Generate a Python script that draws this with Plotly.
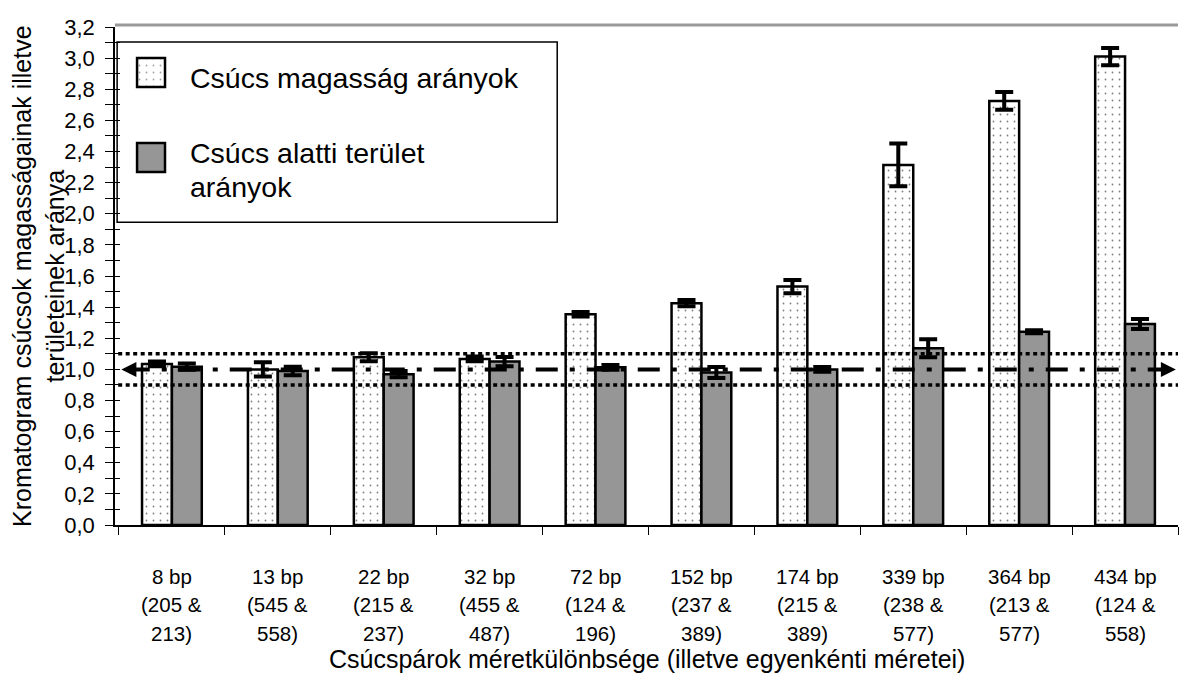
import plotly.graph_objects as go

categories = ["8 bp", "13 bp", "22 bp", "32 bp", "72 bp", "152 bp", "174 bp", "339 bp", "364 bp", "434 bp"]
pair_first = ["(205 &", "(545 &", "(215 &", "(455 &", "(124 &", "(237 &", "(215 &", "(238 &", "(213 &", "(124 &"]
pair_second = ["213)", "558)", "237)", "487)", "196)", "389)", "389)", "577)", "577)", "558)"]
height_ratio = [1.035, 1.00, 1.078, 1.067, 1.354, 1.425, 1.532, 2.314, 2.725, 3.01]
height_err = [0.015, 0.045, 0.025, 0.015, 0.015, 0.02, 0.043, 0.137, 0.057, 0.055]
area_ratio = [1.017, 0.99, 0.969, 1.05, 1.013, 0.98, 1.0, 1.136, 1.242, 1.292]
area_err = [0.02, 0.027, 0.02, 0.03, 0.015, 0.035, 0.015, 0.058, 0.01, 0.032]
ref_value = 1.0
tolerance = [0.9, 1.1]
series_names = ["Csúcs magasság arányok", "Csúcs alatti terület", "arányok"]

FONT = "Liberation Sans, Arial, sans-serif"
GRAY = "#969696"
DOTS = dict(shape=".", fgcolor="black", bgcolor="white", size=7, solidity=0.05)

fig = go.Figure()
fig.add_bar(x=categories, y=height_ratio, name=series_names[0],
            marker=dict(color="white", line=dict(color="black", width=2.5), pattern=DOTS),
            error_y=dict(type="data", array=height_err, color="black", thickness=4, width=9),
            showlegend=False)
fig.add_bar(x=categories, y=area_ratio, name=series_names[1],
            marker=dict(color=GRAY, line=dict(color="black", width=2.5)),
            error_y=dict(type="data", array=area_err, color="black", thickness=4, width=9),
            showlegend=False)
# invisible trace carrying the overlay axis with inward ticks (crossing tick marks)
fig.add_scatter(x=[categories[0]], y=[None], yaxis="y2", showlegend=False, hoverinfo="skip")

# legend swatches drawn on an auxiliary (hidden) axis pair spanning the plot area
fig.add_bar(x=[0.0339, 0.0339], y=[0.0582, 0.0582], base=[0.8795, 0.7088], width=[0.0263, 0.0263],
            offset=[-0.01315, -0.01315], xaxis="x3", yaxis="y3",
            marker=dict(color=["white", GRAY], line=dict(color="black", width=2.5),
                        pattern=dict(shape=[".", ""], fgcolor="black", bgcolor="white", size=7, solidity=0.05)),
            showlegend=False, hoverinfo="skip")

fig.update_layout(
    width=1180, height=673,
    margin=dict(l=115, r=2, t=27, b=148),
    paper_bgcolor="white", plot_bgcolor="rgba(0,0,0,0)",
    separators=", ",
    barmode="group", bargap=0.436, bargroupgap=0,
    font=dict(family=FONT, color="black", size=22),
    xaxis=dict(type="category", tickson="boundaries", ticks="outside", ticklen=8, tickcolor="black",
               tickwidth=1, showline=True, linecolor="black", linewidth=1.5, showgrid=False,
               showticklabels=False, automargin=False),
    yaxis=dict(range=[0, 3.2], dtick=0.2, tickformat=".1f", ticks="outside", ticklen=8,
               tickcolor="black", tickwidth=1, showline=True, linecolor="black", linewidth=1.5,
               showgrid=False, zeroline=False, tickfont=dict(size=22), automargin=False,
               ticklabelstandoff=6,
               minor=dict(dtick=0.1, ticks="outside", ticklen=8, tickcolor="black", tickwidth=1)),
    yaxis2=dict(overlaying="y", matches="y", range=[0, 3.2], dtick=0.2, ticks="inside", ticklen=5,
                tickcolor="black", tickwidth=1, showticklabels=False, showgrid=False, zeroline=False,
                showline=False, side="left", automargin=False,
                minor=dict(dtick=0.1, ticks="inside", ticklen=5, tickcolor="black", tickwidth=1)),
    xaxis3=dict(domain=[0, 1], range=[0, 1], visible=False, anchor="y3", automargin=False),
    yaxis3=dict(domain=[0, 1], range=[0, 1], visible=False, anchor="x3", automargin=False),
)

shapes = [
    dict(type="line", xref="paper", yref="paper", x0=0, x1=1, y0=1.004, y1=1.004,
         line=dict(color="#999999", width=3)),
    dict(type="rect", xref="paper", yref="paper", x0=0.002, x1=0.416, y0=0.608, y1=0.970,
         fillcolor="white", line=dict(color="black", width=1.5), layer="below"),
]
for t in tolerance:
    shapes.append(dict(type="line", xref="paper", yref="y", x0=0.003, x1=1, y0=t, y1=t,
                       line=dict(color="black", width=3.5, dash="4px,3.5px")))
shapes.append(dict(type="line", xref="paper", yref="y", x0=0.012, x1=0.99, y0=ref_value, y1=ref_value,
                   line=dict(color="black", width=4, dash="22px,12px,5px,12px")))
fig.update_layout(shapes=shapes)

ann = [
    dict(x=0.006, y=ref_value, xref="paper", yref="y", ax=14, ay=0, showarrow=True, text="",
         arrowhead=2, arrowsize=1, arrowwidth=3, arrowcolor="black"),
    dict(x=0.998, y=ref_value, xref="paper", yref="y", ax=-14, ay=0, showarrow=True, text="",
         arrowhead=2, arrowsize=1, arrowwidth=3, arrowcolor="black"),
    dict(x=0.0687, y=0.8976, xref="paper", yref="paper", xanchor="left", yanchor="middle",
         text=series_names[0], showarrow=False, font=dict(size=28.5)),
    dict(x=0.0687, y=0.7476, xref="paper", yref="paper", xanchor="left", yanchor="middle",
         text=series_names[1], showarrow=False, font=dict(size=28.5)),
    dict(x=0.0687, y=0.6793, xref="paper", yref="paper", xanchor="left", yanchor="middle",
         text=series_names[2], showarrow=False, font=dict(size=28.5)),
    dict(x=0, y=0.5, xref="paper", yref="paper", xshift=-77, xanchor="center", yanchor="middle",
         textangle=-90, showarrow=False, font=dict(size=25),
         text="Kromatogram csúcsok magasságainak illetve<br>területeinek aránya"),
    dict(x=0.5, y=0, xref="paper", yref="paper", yshift=-134, xanchor="center", yanchor="middle",
         showarrow=False, font=dict(size=25),
         text="Csúcspárok méretkülönbsége (illetve egyenkénti méretei)"),
]
# category labels, three lines each, placed through the category axis
for c, p1, p2 in zip(categories, pair_first, pair_second):
    for i, line in enumerate([c, p1, p2]):
        ann.append(dict(x=c, y=0, xref="x", yref="paper", yshift=-(51 + 28.5 * i),
                        xanchor="center", yanchor="middle", showarrow=False, text=line,
                        font=dict(size=20.5)))
fig.update_layout(annotations=ann)

fig.write_html("out.html", config={"displayModeBar": False},
               post_script="document.body.style.margin='0';document.body.style.padding='0';"
                           "document.body.style.overflow='hidden';")
